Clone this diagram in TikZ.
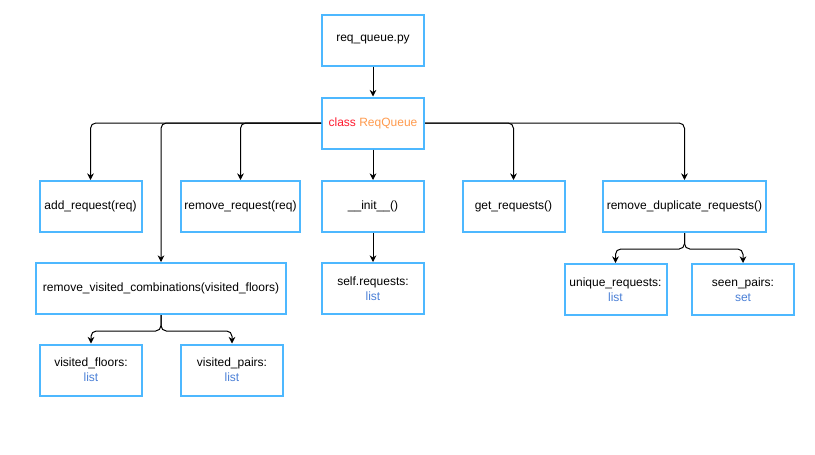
\documentclass[tikz,border=0pt]{standalone}
\usepackage{fontspec}
\setmainfont{Liberation Sans}
\usetikzlibrary{arrows.meta}
\definecolor{boxblue}{HTML}{4DB8FF}
\definecolor{kwred}{HTML}{FF1A2E}
\definecolor{clsorange}{HTML}{FF9A4D}
\definecolor{typeblue}{HTML}{4A7FD6}
\tikzset{
	box/.style={draw=boxblue, line width=1.5pt, minimum width=76.5pt, minimum height=38.25pt,
		align=center, inner sep=2pt, font=\fontsize{9}{11.25}\selectfont},
	link/.style={-{Stealth[length=5pt,width=5pt]}, line width=0.75pt, rounded corners=4pt},
}
\begin{document}
\begin{tikzpicture}[x=0.75pt,y=-0.75pt]
		\useasboundingbox (0,0) rectangle (815,454);
		
		% file and class
		\node[box] (file) at (373,40) {req\_queue.py};
		\node[box] (cls) at (373,123) {\textcolor{kwred}{class} \textcolor{clsorange}{ReqQueue}};
		
		% methods
		\node[box] (add) at (90.5,206.5) {add\_request(req)};
		\node[box, minimum width=89.25pt] (rem) at (240.5,206.5) {remove\_request(req)};
		\node[box] (init) at (373,206.5) {\_\_init\_\_()};
		\node[box] (get) at (513.5,206.5) {get\_requests()};
		\node[box, minimum width=122.25pt] (rdup) at (684.5,206.5) {remove\_duplicate\_requests()};
		\node[box, minimum width=187.5pt] (rvc) at (161,288.5) {remove\_visited\_combinations(visited\_floors)};
		
		% attributes
		\node[box] (selfreq) at (373,288.5) {self.requests:\\\textcolor{typeblue}{list}};
		\node[box] (vfl) at (91,370) {visited\_floors:\\\textcolor{typeblue}{list}};
		\node[box] (vpr) at (232,370) {visited\_pairs:\\\textcolor{typeblue}{list}};
		\node[box] (uniq) at (615.5,289.5) {unique\_requests:\\\textcolor{typeblue}{list}};
		\node[box] (seen) at (743,289.5) {seen\_pairs:\\\textcolor{typeblue}{set}};
		
		% connectors
		\draw[link] (file) -- (cls);
		\draw[link] (cls.west) -| (add.north);
		\draw[link] (cls.west) -| (rvc.north);
		\draw[link] (cls.west) -| (rem.north);
		\draw[link] (cls) -- (init);
		\draw[link] (cls.east) -| (get.north);
		\draw[link] (cls.east) -| (rdup.north);
		\draw[link] (init) -- (selfreq);
		\draw[link] (rvc.south) -- ++(0,16) -| (vfl.north);
		\draw[link] (rvc.south) -- ++(0,16) -| (vpr.north);
		\draw[link] (rdup.south) -- ++(0,16) -| (uniq.north);
		\draw[link] (rdup.south) -- ++(0,16) -| (seen.north);
	\end{tikzpicture}
\end{document}
